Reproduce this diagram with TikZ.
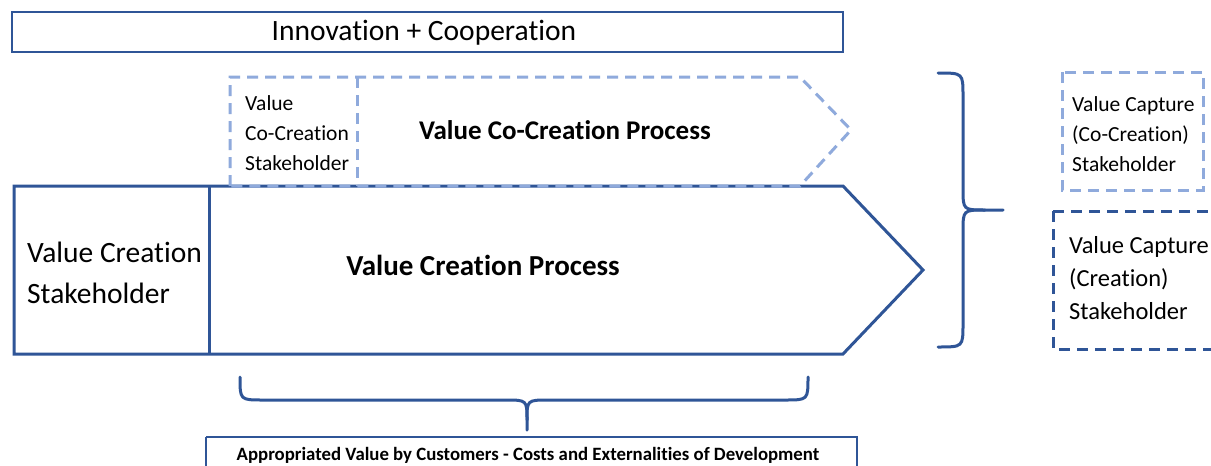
\documentclass[tikz,border=0pt]{standalone}
\usepackage{fontspec}
\setmainfont{Carlito}[Ligatures=NoCommon,RawFeature={-liga;-dlig}]
\definecolor{dkblue}{HTML}{2F5597}
\definecolor{ltblue}{HTML}{8FAADC}
\begin{document}
\begin{tikzpicture}[x=1pt,y=-1pt,
  dkline/.style={draw=dkblue,line width=3pt,line join=miter},
  ltdash/.style={draw=ltblue,line width=3pt,dash pattern=on 11pt off 7pt},
  dkdash/.style={draw=dkblue,line width=3pt,dash pattern=on 11pt off 7pt},
  bracestyle/.style={draw=dkblue,line width=3pt,line cap=round},
  txt/.style={inner sep=0pt,text=black}]
\useasboundingbox (0,0) rectangle (1211,466);
\fill[white] (0,0) rectangle (1211,466);
% top box
\draw[draw=dkblue,line width=2pt] (12,12) rectangle (843,52);
\node[txt,font=\fontsize{29.5}{34}\selectfont] (innov) at (424,33) {Innovation + Cooperation};
% value creation arrow
\draw[dkline] (14,186) -- (843,186) -- (923,270) -- (843,354) -- (14,354) -- cycle;
\draw[dkline] (209,186) -- (209,354);
\node[txt,anchor=west,align=left,font=\fontsize{29.5}{41}\selectfont] (vcs) at (27,273) {Value Creation\\Stakeholder};
\node[txt,font=\bfseries\fontsize{29}{34}\selectfont] (vcp) at (483,265) {Value Creation Process};
% co-creation arrow
\draw[ltdash] (230,186) -- (230,77) -- (800,77) -- (851,130) -- (800,186) -- cycle;
\draw[ltdash] (357,77) -- (357,186);
\node[txt,anchor=west,align=left,font=\fontsize{21.5}{30}\selectfont] (vccs) at (245,133) {Value\\Co-Creation\\Stakeholder};
\node[txt,font=\bfseries\fontsize{27}{32}\selectfont] (vccp) at (565,130) {Value Co-Creation Process};
% bottom brace
\draw[bracestyle] (240,377) .. controls (240,400) .. (263,400) -- (505,400) .. controls (527,400) .. (527,420) -- (527,430);
\draw[bracestyle] (808,377) .. controls (808,400) .. (785,400) -- (549,400) .. controls (527,400) .. (527,420);
% bottom box
\draw[draw=dkblue,line width=2pt] (206,437) -- (857,437) -- (857,470) (206,437) -- (206,470);
\node[txt,font=\bfseries\fontsize{18.8}{22}\selectfont] (appr) at (528,455) {Appropriated Value by Customers - Costs and Externalities of Development};
% right brace
\draw[bracestyle] (938,73) .. controls (963,73) .. (963,96) -- (963,188) .. controls (963,210) .. (985,210) -- (1003,210);
\draw[bracestyle] (938,347) .. controls (963,347) .. (963,324) -- (963,232) .. controls (963,210) .. (985,210);
% capture boxes
\draw[ltdash] (1062,72) rectangle (1203,190);
\node[txt,anchor=west,align=left,font=\fontsize{21.5}{30}\selectfont] (vcc) at (1072,134) {Value Capture\\(Co-Creation)\\Stakeholder};
\draw[dkdash] (1053,211) -- (1053,349) -- (1220,349) (1053,211) -- (1220,211);
\node[txt,anchor=west,align=left,font=\fontsize{24.5}{33}\selectfont] (vcr) at (1069,278) {Value Capture\\(Creation)\\Stakeholder};
\end{tikzpicture}
\end{document}
